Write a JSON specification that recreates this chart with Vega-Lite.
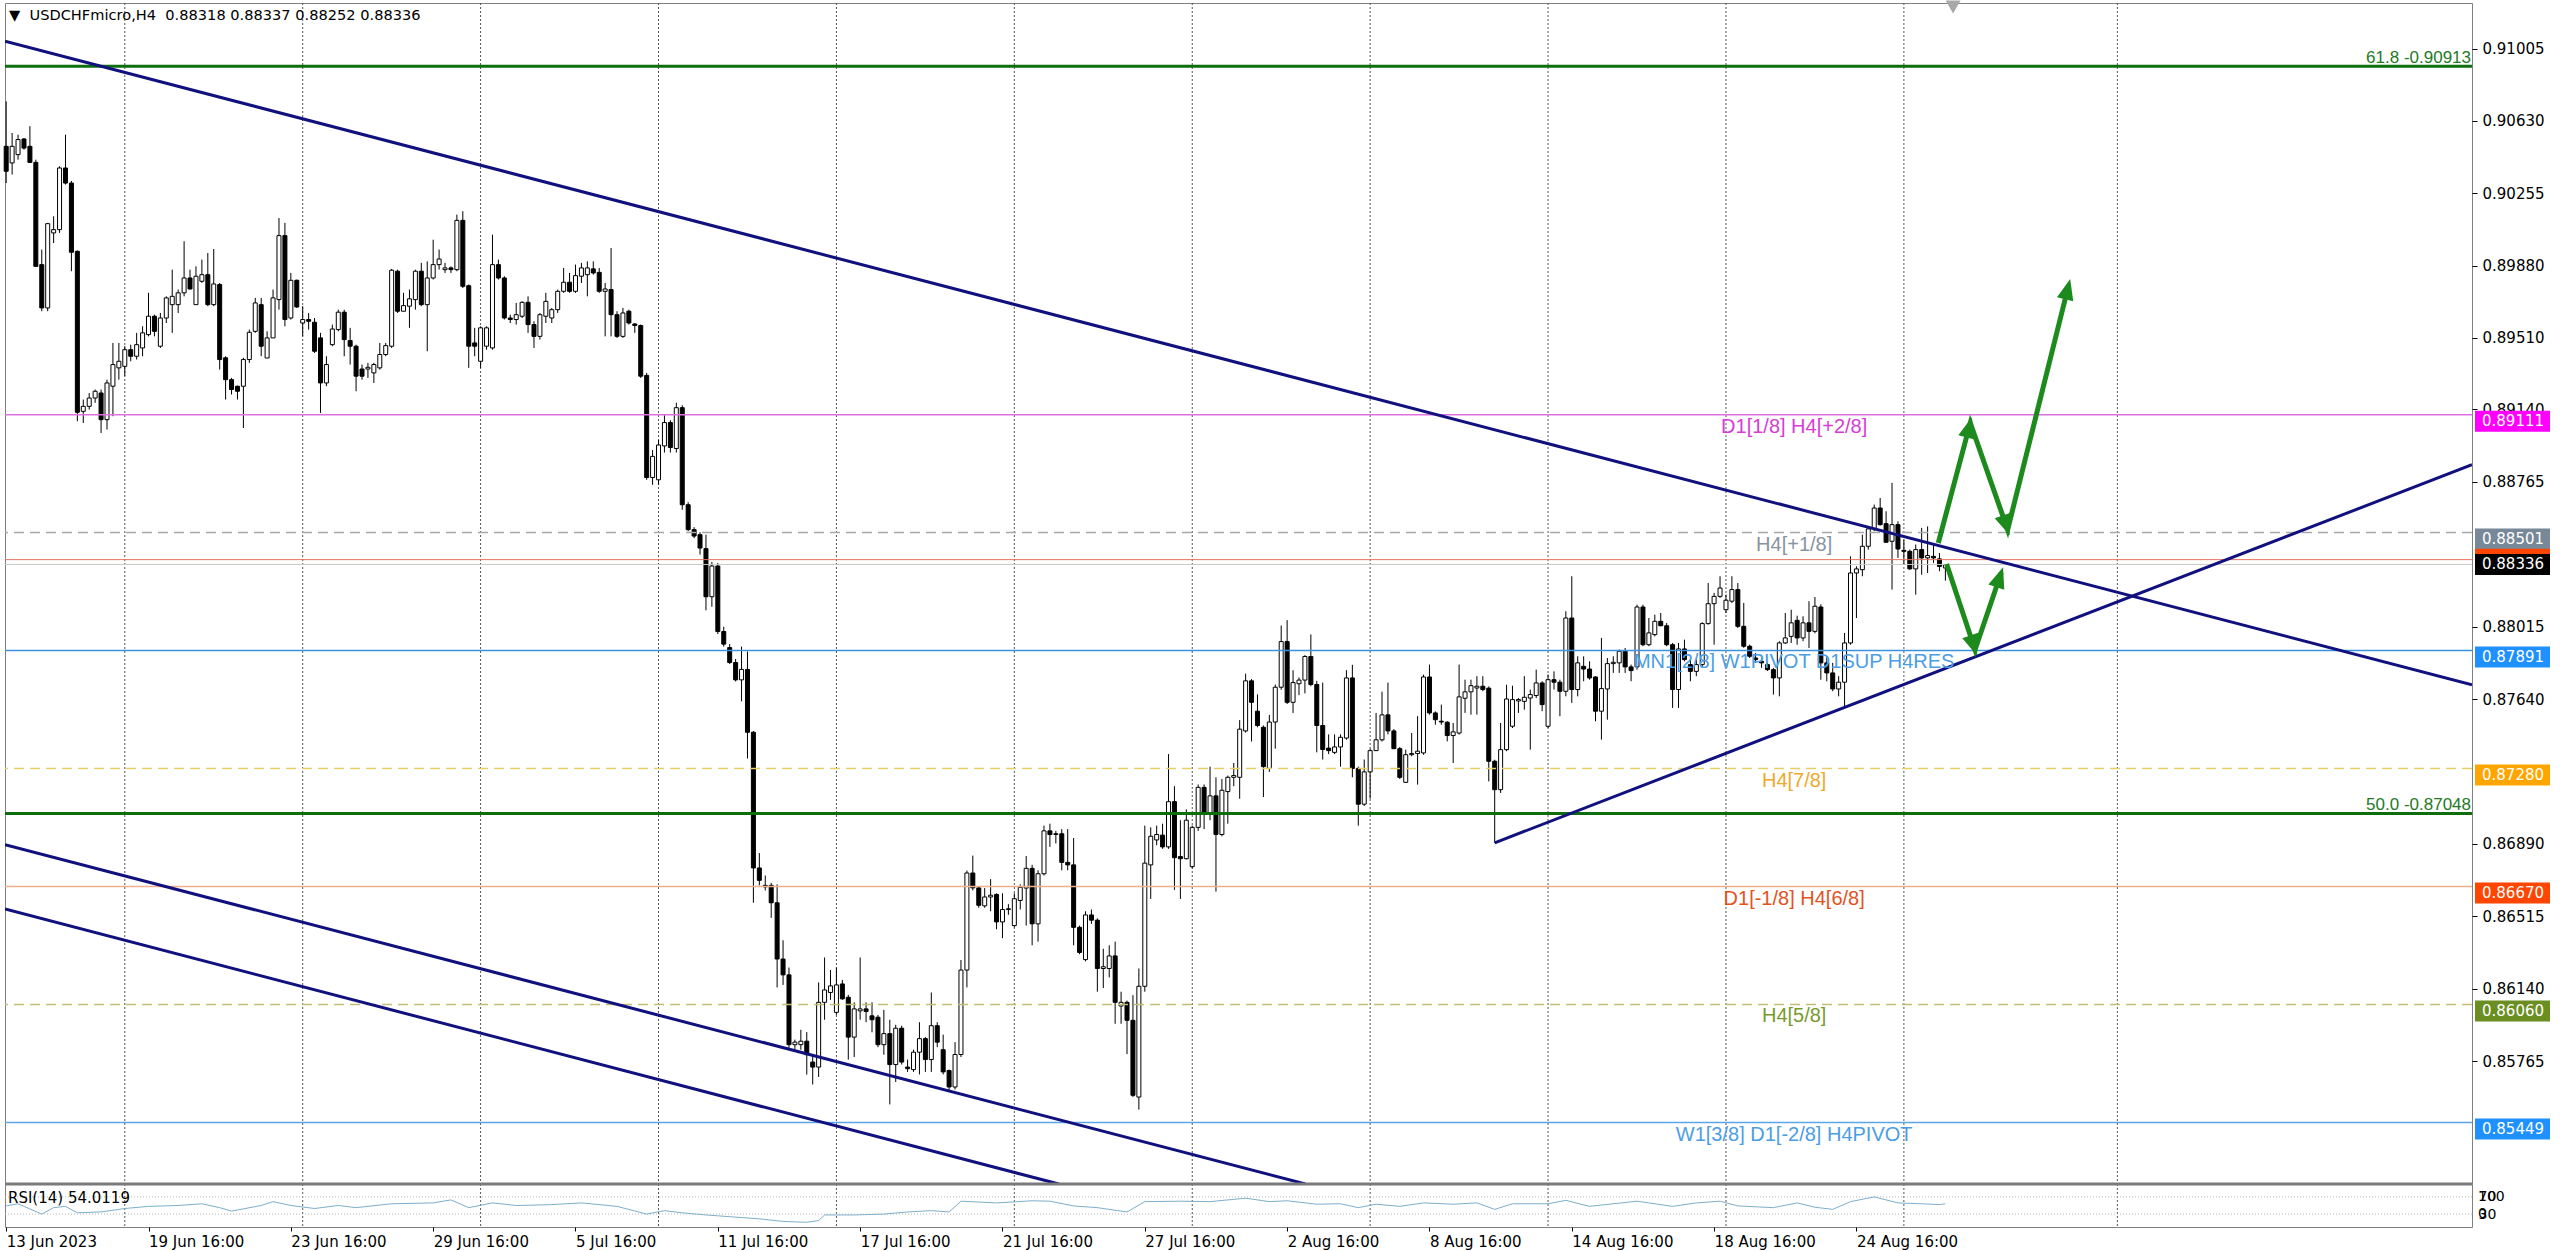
{
"$schema": "https://vega.github.io/schema/vega-lite/v6.json",
"padding": {"left": 3, "top": 0, "right": 0, "bottom": 0},
"autosize": {"type": "pad"},
"background": "#ffffff",
"bounds": "flush",
"spacing": 0,
"config": {"view": {"stroke": "#808080", "strokeWidth": 1}, "font": "DejaVu Sans"},
"datasets": {
"grid": [{"i":20},{"i":50},{"i":80},{"i":110},{"i":140},{"i":170},{"i":200},{"i":230},{"i":260},{"i":290},{"i":320},{"i":356}],
"levels": [
{"level":"61.8","price":0.90913,"kind":"fib","text":"61.8 -0.90913"},
{"level":"D1[1/8] H4[+2/8]","price":0.89111,"kind":"murrey"},
{"level":"H4[+1/8]","price":0.88501,"kind":"murrey"},
{"level":"Ask","price":0.88361,"kind":"ask"},
{"level":"Bid","price":0.88336,"kind":"bid"},
{"level":"MN1[2/8] W1PIVOT D1SUP H4RES","price":0.87891,"kind":"murrey"},
{"level":"H4[7/8]","price":0.8728,"kind":"murrey"},
{"level":"50.0","price":0.87048,"kind":"fib","text":"50.0 -0.87048"},
{"level":"D1[-1/8] H4[6/8]","price":0.8667,"kind":"murrey"},
{"level":"H4[5/8]","price":0.8606,"kind":"murrey"},
{"level":"W1[3/8] D1[-2/8] H4PIVOT","price":0.85449,"kind":"murrey"}
],
"trend": [
{"line":"A","i":-0.2,"price":0.91043},{"line":"A","i":415.8,"price":0.87714},
{"line":"B","i":251,"price":0.86896},{"line":"B","i":415.8,"price":0.88852},
{"line":"C1","i":-0.2,"price":0.86887},{"line":"C1","i":219.1,"price":0.85131},
{"line":"C2","i":-0.2,"price":0.86554},{"line":"C2","i":177.5,"price":0.85131}
],
"arrows": [
{"arrow":"up","seq":0,"i":325.8,"price":0.88447},{"arrow":"up","seq":1,"i":331.2,"price":0.89068},{"arrow":"up","seq":2,"i":337.5,"price":0.88516},{"arrow":"up","seq":3,"i":347.8,"price":0.89783},
{"arrow":"down","seq":0,"i":327.2,"price":0.88338},{"arrow":"down","seq":1,"i":332.0,"price":0.87895},{"arrow":"down","seq":2,"i":336.4,"price":0.88292}
],
"heads": [
{"i":331.2,"price":0.89068,"dir":14.8},{"i":337.5,"price":0.88516,"dir":160.5},{"i":347.8,"price":0.89783,"dir":14},
{"i":332.0,"price":0.87895,"dir":161.2},{"i":336.4,"price":0.88292,"dir":18.7}
],
"rsiLevels": [{"v":70},{"v":30}],
"rsi": [
{"i":0,"rsi":49},{"i":2,"rsi":54},{"i":6,"rsi":30},{"i":8,"rsi":45},{"i":10,"rsi":48},{"i":12,"rsi":33},{"i":16,"rsi":35},{"i":20,"rsi":43},{"i":24,"rsi":48},{"i":29,"rsi":50},{"i":33,"rsi":54},{"i":36,"rsi":45},{"i":38,"rsi":37},{"i":43,"rsi":50},{"i":45,"rsi":59},{"i":48,"rsi":50},{"i":52,"rsi":43},{"i":56,"rsi":50},{"i":59,"rsi":45},{"i":65,"rsi":54},{"i":72,"rsi":56},{"i":75,"rsi":63},{"i":78,"rsi":45},{"i":82,"rsi":56},{"i":86,"rsi":50},{"i":92,"rsi":52},{"i":97,"rsi":56},{"i":103,"rsi":48},{"i":108,"rsi":30},{"i":111,"rsi":38},{"i":114,"rsi":33},{"i":118,"rsi":28},{"i":122,"rsi":24},{"i":127,"rsi":19},{"i":131,"rsi":13},{"i":135,"rsi":11},{"i":137,"rsi":15},{"i":138,"rsi":28},{"i":143,"rsi":28},{"i":148,"rsi":30},{"i":152,"rsi":35},{"i":156,"rsi":38},{"i":159,"rsi":35},{"i":161,"rsi":60},{"i":167,"rsi":56},{"i":173,"rsi":61},{"i":176,"rsi":60},{"i":180,"rsi":49},{"i":184,"rsi":45},{"i":189,"rsi":35},{"i":192,"rsi":59},{"i":198,"rsi":60},{"i":203,"rsi":59},{"i":209,"rsi":67},{"i":213,"rsi":59},{"i":216,"rsi":61},{"i":221,"rsi":53},{"i":225,"rsi":54},{"i":228,"rsi":45},{"i":231,"rsi":53},{"i":235,"rsi":48},{"i":239,"rsi":56},{"i":244,"rsi":53},{"i":248,"rsi":56},{"i":251,"rsi":41},{"i":254,"rsi":54},{"i":260,"rsi":54},{"i":263,"rsi":62},{"i":267,"rsi":48},{"i":275,"rsi":60},{"i":281,"rsi":48},{"i":285,"rsi":56},{"i":289,"rsi":60},{"i":292,"rsi":49},{"i":298,"rsi":45},{"i":302,"rsi":56},{"i":305,"rsi":46},{"i":308,"rsi":41},{"i":311,"rsi":59},{"i":315,"rsi":70},{"i":319,"rsi":56},{"i":323,"rsi":54},{"i":326,"rsi":52},{"i":327,"rsi":54}
],
"candles": [
{"i":0,"open":0.90499,"high":0.90732,"low":0.90309,"close":0.90370},
{"i":1,"open":0.90413,"high":0.90568,"low":0.90353,"close":0.90499},
{"i":2,"open":0.90456,"high":0.90559,"low":0.90430,"close":0.90534},
{"i":3,"open":0.90537,"high":0.90542,"low":0.90482,"close":0.90490},
{"i":4,"open":0.90499,"high":0.90603,"low":0.90413,"close":0.90416},
{"i":5,"open":0.90416,"high":0.90430,"low":0.89878,"close":0.89878},
{"i":6,"open":0.89887,"high":0.89965,"low":0.89646,"close":0.89663},
{"i":7,"open":0.89663,"high":0.90103,"low":0.89646,"close":0.90099},
{"i":8,"open":0.90051,"high":0.90137,"low":0.89999,"close":0.90068},
{"i":9,"open":0.90068,"high":0.90396,"low":0.90051,"close":0.90387},
{"i":10,"open":0.90387,"high":0.90559,"low":0.90301,"close":0.90309},
{"i":11,"open":0.90309,"high":0.90320,"low":0.89853,"close":0.89951},
{"i":12,"open":0.89956,"high":0.89960,"low":0.89077,"close":0.89123},
{"i":13,"open":0.89128,"high":0.89189,"low":0.89068,"close":0.89154},
{"i":14,"open":0.89154,"high":0.89223,"low":0.89137,"close":0.89197},
{"i":15,"open":0.89197,"high":0.89241,"low":0.89172,"close":0.89232},
{"i":16,"open":0.89223,"high":0.89241,"low":0.89016,"close":0.89085},
{"i":17,"open":0.89085,"high":0.89292,"low":0.89034,"close":0.89275},
{"i":18,"open":0.89258,"high":0.89482,"low":0.89103,"close":0.89370},
{"i":19,"open":0.89353,"high":0.89482,"low":0.89292,"close":0.89387},
{"i":20,"open":0.89361,"high":0.89465,"low":0.89310,"close":0.89447},
{"i":21,"open":0.89447,"high":0.89473,"low":0.89387,"close":0.89413},
{"i":22,"open":0.89413,"high":0.89534,"low":0.89396,"close":0.89473},
{"i":23,"open":0.89456,"high":0.89568,"low":0.89413,"close":0.89534},
{"i":24,"open":0.89525,"high":0.89741,"low":0.89516,"close":0.89620},
{"i":25,"open":0.89620,"high":0.89628,"low":0.89516,"close":0.89542},
{"i":26,"open":0.89465,"high":0.89637,"low":0.89456,"close":0.89611},
{"i":27,"open":0.89611,"high":0.89723,"low":0.89585,"close":0.89715},
{"i":28,"open":0.89680,"high":0.89861,"low":0.89534,"close":0.89723},
{"i":29,"open":0.89680,"high":0.89758,"low":0.89637,"close":0.89741},
{"i":30,"open":0.89741,"high":0.90008,"low":0.89723,"close":0.89818},
{"i":31,"open":0.89818,"high":0.89861,"low":0.89758,"close":0.89761},
{"i":32,"open":0.89680,"high":0.89878,"low":0.89680,"close":0.89827},
{"i":33,"open":0.89801,"high":0.89913,"low":0.89792,"close":0.89835},
{"i":34,"open":0.89835,"high":0.89947,"low":0.89672,"close":0.89680},
{"i":35,"open":0.89680,"high":0.89968,"low":0.89672,"close":0.89787},
{"i":36,"open":0.89784,"high":0.89792,"low":0.89344,"close":0.89396},
{"i":37,"open":0.89405,"high":0.89413,"low":0.89189,"close":0.89292},
{"i":38,"open":0.89292,"high":0.89301,"low":0.89215,"close":0.89241},
{"i":39,"open":0.89258,"high":0.89261,"low":0.89189,"close":0.89232},
{"i":40,"open":0.89258,"high":0.89405,"low":0.89042,"close":0.89396},
{"i":41,"open":0.89396,"high":0.89551,"low":0.89379,"close":0.89537},
{"i":42,"open":0.89542,"high":0.89715,"low":0.89534,"close":0.89689},
{"i":43,"open":0.89680,"high":0.89715,"low":0.89413,"close":0.89465},
{"i":44,"open":0.89404,"high":0.89542,"low":0.89404,"close":0.89508},
{"i":45,"open":0.89508,"high":0.89758,"low":0.89508,"close":0.89715},
{"i":46,"open":0.89706,"high":0.90128,"low":0.89654,"close":0.90037},
{"i":47,"open":0.90037,"high":0.90103,"low":0.89568,"close":0.89603},
{"i":48,"open":0.89611,"high":0.89844,"low":0.89603,"close":0.89806},
{"i":49,"open":0.89806,"high":0.89810,"low":0.89663,"close":0.89668},
{"i":50,"open":0.89585,"high":0.89672,"low":0.89516,"close":0.89603},
{"i":51,"open":0.89603,"high":0.89637,"low":0.89551,"close":0.89594},
{"i":52,"open":0.89589,"high":0.89611,"low":0.89430,"close":0.89439},
{"i":53,"open":0.89508,"high":0.89534,"low":0.89120,"close":0.89275},
{"i":54,"open":0.89275,"high":0.89413,"low":0.89258,"close":0.89370},
{"i":55,"open":0.89473,"high":0.89577,"low":0.89465,"close":0.89554},
{"i":56,"open":0.89551,"high":0.89654,"low":0.89542,"close":0.89641},
{"i":57,"open":0.89641,"high":0.89654,"low":0.89413,"close":0.89499},
{"i":58,"open":0.89494,"high":0.89560,"low":0.89370,"close":0.89465},
{"i":59,"open":0.89465,"high":0.89473,"low":0.89232,"close":0.89310},
{"i":60,"open":0.89347,"high":0.89370,"low":0.89292,"close":0.89310},
{"i":61,"open":0.89347,"high":0.89379,"low":0.89301,"close":0.89356},
{"i":62,"open":0.89327,"high":0.89379,"low":0.89275,"close":0.89370},
{"i":63,"open":0.89353,"high":0.89482,"low":0.89344,"close":0.89422},
{"i":64,"open":0.89422,"high":0.89482,"low":0.89413,"close":0.89468},
{"i":65,"open":0.89465,"high":0.89865,"low":0.89456,"close":0.89858},
{"i":66,"open":0.89853,"high":0.89861,"low":0.89637,"close":0.89646},
{"i":67,"open":0.89646,"high":0.89741,"low":0.89646,"close":0.89675},
{"i":68,"open":0.89672,"high":0.89758,"low":0.89560,"close":0.89710},
{"i":69,"open":0.89706,"high":0.89861,"low":0.89654,"close":0.89853},
{"i":70,"open":0.89853,"high":0.89896,"low":0.89672,"close":0.89680},
{"i":71,"open":0.89680,"high":0.89904,"low":0.89439,"close":0.89818},
{"i":72,"open":0.89818,"high":0.90016,"low":0.89810,"close":0.89887},
{"i":73,"open":0.89887,"high":0.89965,"low":0.89861,"close":0.89916},
{"i":74,"open":0.89861,"high":0.89896,"low":0.89844,"close":0.89870},
{"i":75,"open":0.89870,"high":0.89878,"low":0.89844,"close":0.89861},
{"i":76,"open":0.89861,"high":0.90146,"low":0.89853,"close":0.90116},
{"i":77,"open":0.90116,"high":0.90163,"low":0.89766,"close":0.89775},
{"i":78,"open":0.89778,"high":0.89784,"low":0.89353,"close":0.89465},
{"i":79,"open":0.89482,"high":0.89560,"low":0.89413,"close":0.89465},
{"i":80,"open":0.89387,"high":0.89568,"low":0.89353,"close":0.89560},
{"i":81,"open":0.89465,"high":0.89568,"low":0.89447,"close":0.89560},
{"i":82,"open":0.89456,"high":0.90042,"low":0.89447,"close":0.89887},
{"i":83,"open":0.89887,"high":0.89913,"low":0.89810,"close":0.89818},
{"i":84,"open":0.89818,"high":0.89827,"low":0.89603,"close":0.89611},
{"i":85,"open":0.89611,"high":0.89628,"low":0.89585,"close":0.89603},
{"i":86,"open":0.89603,"high":0.89689,"low":0.89577,"close":0.89628},
{"i":87,"open":0.89620,"high":0.89697,"low":0.89611,"close":0.89692},
{"i":88,"open":0.89692,"high":0.89723,"low":0.89534,"close":0.89577},
{"i":89,"open":0.89577,"high":0.89594,"low":0.89456,"close":0.89516},
{"i":90,"open":0.89516,"high":0.89637,"low":0.89499,"close":0.89628},
{"i":91,"open":0.89620,"high":0.89741,"low":0.89585,"close":0.89697},
{"i":92,"open":0.89611,"high":0.89663,"low":0.89585,"close":0.89654},
{"i":93,"open":0.89654,"high":0.89758,"low":0.89637,"close":0.89749},
{"i":94,"open":0.89749,"high":0.89870,"low":0.89741,"close":0.89796},
{"i":95,"open":0.89796,"high":0.89844,"low":0.89741,"close":0.89749},
{"i":96,"open":0.89749,"high":0.89887,"low":0.89741,"close":0.89830},
{"i":97,"open":0.89827,"high":0.89896,"low":0.89792,"close":0.89870},
{"i":98,"open":0.89835,"high":0.89904,"low":0.89723,"close":0.89870},
{"i":99,"open":0.89865,"high":0.89904,"low":0.89835,"close":0.89844},
{"i":100,"open":0.89847,"high":0.89870,"low":0.89741,"close":0.89749},
{"i":101,"open":0.89749,"high":0.89792,"low":0.89516,"close":0.89761},
{"i":102,"open":0.89758,"high":0.89973,"low":0.89516,"close":0.89628},
{"i":103,"open":0.89628,"high":0.89646,"low":0.89508,"close":0.89516},
{"i":104,"open":0.89516,"high":0.89663,"low":0.89508,"close":0.89637},
{"i":105,"open":0.89646,"high":0.89654,"low":0.89577,"close":0.89585},
{"i":106,"open":0.89580,"high":0.89585,"low":0.89534,"close":0.89572},
{"i":107,"open":0.89572,"high":0.89577,"low":0.89301,"close":0.89310},
{"i":108,"open":0.89314,"high":0.89327,"low":0.88774,"close":0.88786},
{"i":109,"open":0.88786,"high":0.88928,"low":0.88748,"close":0.88895},
{"i":110,"open":0.88774,"high":0.88980,"low":0.88748,"close":0.88954},
{"i":111,"open":0.88949,"high":0.89108,"low":0.88915,"close":0.89070},
{"i":112,"open":0.89070,"high":0.89082,"low":0.88915,"close":0.88941},
{"i":113,"open":0.88936,"high":0.89173,"low":0.88915,"close":0.89147},
{"i":114,"open":0.89147,"high":0.89160,"low":0.88619,"close":0.88645},
{"i":115,"open":0.88645,"high":0.88658,"low":0.88508,"close":0.88516},
{"i":116,"open":0.88516,"high":0.88529,"low":0.88472,"close":0.88483},
{"i":117,"open":0.88490,"high":0.88503,"low":0.88387,"close":0.88421},
{"i":118,"open":0.88418,"high":0.88490,"low":0.88099,"close":0.88169},
{"i":119,"open":0.88169,"high":0.88349,"low":0.88117,"close":0.88328},
{"i":120,"open":0.88328,"high":0.88344,"low":0.87976,"close":0.87989},
{"i":121,"open":0.87989,"high":0.88014,"low":0.87911,"close":0.87924},
{"i":122,"open":0.87906,"high":0.87924,"low":0.87821,"close":0.87829},
{"i":123,"open":0.87829,"high":0.87847,"low":0.87731,"close":0.87739},
{"i":124,"open":0.87739,"high":0.87911,"low":0.87628,"close":0.87793},
{"i":125,"open":0.87793,"high":0.87886,"low":0.87332,"close":0.87468},
{"i":126,"open":0.87468,"high":0.87474,"low":0.86586,"close":0.86766},
{"i":127,"open":0.86766,"high":0.86843,"low":0.86676,"close":0.86702},
{"i":128,"open":0.86676,"high":0.86727,"low":0.86650,"close":0.86668},
{"i":129,"open":0.86676,"high":0.86689,"low":0.86508,"close":0.86586},
{"i":130,"open":0.86586,"high":0.86681,"low":0.86148,"close":0.86295},
{"i":131,"open":0.86295,"high":0.86392,"low":0.86161,"close":0.86213},
{"i":132,"open":0.86213,"high":0.86251,"low":0.85826,"close":0.85852},
{"i":133,"open":0.85852,"high":0.85878,"low":0.85826,"close":0.85865},
{"i":134,"open":0.85852,"high":0.85929,"low":0.85826,"close":0.85870},
{"i":135,"open":0.85870,"high":0.85917,"low":0.85697,"close":0.85800},
{"i":136,"open":0.85762,"high":0.85800,"low":0.85646,"close":0.85736},
{"i":137,"open":0.85736,"high":0.86174,"low":0.85685,"close":0.86071},
{"i":138,"open":0.86071,"high":0.86303,"low":0.85981,"close":0.86135},
{"i":139,"open":0.86122,"high":0.86238,"low":0.86084,"close":0.86156},
{"i":140,"open":0.86019,"high":0.86251,"low":0.86006,"close":0.86161},
{"i":141,"open":0.86166,"high":0.86187,"low":0.86084,"close":0.86089},
{"i":142,"open":0.86097,"high":0.86110,"low":0.85775,"close":0.85891},
{"i":143,"open":0.85891,"high":0.86071,"low":0.85788,"close":0.86037},
{"i":144,"open":0.86027,"high":0.86303,"low":0.85981,"close":0.86037},
{"i":145,"open":0.86037,"high":0.86071,"low":0.85968,"close":0.86024},
{"i":146,"open":0.86001,"high":0.86071,"low":0.85916,"close":0.85981},
{"i":147,"open":0.85994,"high":0.86006,"low":0.85839,"close":0.85852},
{"i":148,"open":0.85852,"high":0.86032,"low":0.85800,"close":0.85909},
{"i":149,"open":0.85909,"high":0.85981,"low":0.85543,"close":0.85749},
{"i":150,"open":0.85749,"high":0.85955,"low":0.85659,"close":0.85937},
{"i":151,"open":0.85937,"high":0.85950,"low":0.85749,"close":0.85762},
{"i":152,"open":0.85736,"high":0.85775,"low":0.85711,"close":0.85728},
{"i":153,"open":0.85723,"high":0.85826,"low":0.85711,"close":0.85813},
{"i":154,"open":0.85813,"high":0.85968,"low":0.85698,"close":0.85883},
{"i":155,"open":0.85883,"high":0.85891,"low":0.85711,"close":0.85775},
{"i":156,"open":0.85775,"high":0.86122,"low":0.85711,"close":0.85950},
{"i":157,"open":0.85950,"high":0.85968,"low":0.85839,"close":0.85865},
{"i":158,"open":0.85826,"high":0.85904,"low":0.85698,"close":0.85711},
{"i":159,"open":0.85718,"high":0.85723,"low":0.85607,"close":0.85633},
{"i":160,"open":0.85633,"high":0.85865,"low":0.85620,"close":0.85801},
{"i":161,"open":0.85801,"high":0.86290,"low":0.85788,"close":0.86238},
{"i":162,"open":0.86238,"high":0.86753,"low":0.86148,"close":0.86740},
{"i":163,"open":0.86740,"high":0.86830,"low":0.86650,"close":0.86663},
{"i":164,"open":0.86663,"high":0.86670,"low":0.86560,"close":0.86573},
{"i":165,"open":0.86570,"high":0.86662,"low":0.86560,"close":0.86616},
{"i":166,"open":0.86616,"high":0.86708,"low":0.86542,"close":0.86625},
{"i":167,"open":0.86629,"high":0.86635,"low":0.86449,"close":0.86487},
{"i":168,"open":0.86487,"high":0.86635,"low":0.86403,"close":0.86551},
{"i":169,"open":0.86551,"high":0.86579,"low":0.86524,"close":0.86555},
{"i":170,"open":0.86468,"high":0.86635,"low":0.86459,"close":0.86607},
{"i":171,"open":0.86598,"high":0.86681,"low":0.86551,"close":0.86666},
{"i":172,"open":0.86662,"high":0.86828,"low":0.86468,"close":0.86764},
{"i":173,"open":0.86764,"high":0.86782,"low":0.86366,"close":0.86477},
{"i":174,"open":0.86477,"high":0.86754,"low":0.86385,"close":0.86736},
{"i":175,"open":0.86736,"high":0.86985,"low":0.86727,"close":0.86958},
{"i":176,"open":0.86958,"high":0.86995,"low":0.86875,"close":0.86939},
{"i":177,"open":0.86943,"high":0.86958,"low":0.86893,"close":0.86939},
{"i":178,"open":0.86943,"high":0.86967,"low":0.86754,"close":0.86795},
{"i":179,"open":0.86795,"high":0.86967,"low":0.86754,"close":0.86782},
{"i":180,"open":0.86782,"high":0.86921,"low":0.86366,"close":0.86459},
{"i":181,"open":0.86459,"high":0.86468,"low":0.86320,"close":0.86329},
{"i":182,"open":0.86292,"high":0.86542,"low":0.86283,"close":0.86523},
{"i":183,"open":0.86523,"high":0.86551,"low":0.86477,"close":0.86496},
{"i":184,"open":0.86496,"high":0.86505,"low":0.86126,"close":0.86246},
{"i":185,"open":0.86246,"high":0.86348,"low":0.86145,"close":0.86255},
{"i":186,"open":0.86246,"high":0.86366,"low":0.86200,"close":0.86311},
{"i":187,"open":0.86311,"high":0.86385,"low":0.85960,"close":0.86071},
{"i":188,"open":0.86052,"high":0.86126,"low":0.85960,"close":0.86071},
{"i":189,"open":0.86071,"high":0.86080,"low":0.85803,"close":0.85978},
{"i":190,"open":0.85978,"high":0.86108,"low":0.85581,"close":0.85590},
{"i":191,"open":0.85581,"high":0.86246,"low":0.85516,"close":0.86154},
{"i":192,"open":0.86154,"high":0.86985,"low":0.86126,"close":0.86791},
{"i":193,"open":0.86782,"high":0.86976,"low":0.86606,"close":0.86930},
{"i":194,"open":0.86911,"high":0.86985,"low":0.86884,"close":0.86939},
{"i":195,"open":0.86936,"high":0.86995,"low":0.86865,"close":0.86875},
{"i":196,"open":0.86875,"high":0.87355,"low":0.86865,"close":0.87109},
{"i":197,"open":0.87109,"high":0.87189,"low":0.86653,"close":0.86819},
{"i":198,"open":0.86825,"high":0.87013,"low":0.86606,"close":0.86814},
{"i":199,"open":0.86814,"high":0.87069,"low":0.86810,"close":0.87013},
{"i":200,"open":0.86773,"high":0.86985,"low":0.86764,"close":0.86976},
{"i":201,"open":0.86976,"high":0.87198,"low":0.86958,"close":0.87183},
{"i":202,"open":0.87183,"high":0.87198,"low":0.86967,"close":0.87050},
{"i":203,"open":0.87050,"high":0.87290,"low":0.87013,"close":0.87139},
{"i":204,"open":0.87139,"high":0.87235,"low":0.86644,"close":0.86939},
{"i":205,"open":0.86939,"high":0.87226,"low":0.86930,"close":0.87168},
{"i":206,"open":0.87161,"high":0.87244,"low":0.86995,"close":0.87235},
{"i":207,"open":0.87235,"high":0.87309,"low":0.87189,"close":0.87244},
{"i":208,"open":0.87235,"high":0.87531,"low":0.87124,"close":0.87484},
{"i":209,"open":0.87475,"high":0.87771,"low":0.87466,"close":0.87734},
{"i":210,"open":0.87734,"high":0.87743,"low":0.87420,"close":0.87623},
{"i":211,"open":0.87577,"high":0.87664,"low":0.87494,"close":0.87503},
{"i":212,"open":0.87494,"high":0.87503,"low":0.87133,"close":0.87290},
{"i":213,"open":0.87281,"high":0.87558,"low":0.87263,"close":0.87521},
{"i":214,"open":0.87521,"high":0.87715,"low":0.87383,"close":0.87701},
{"i":215,"open":0.87701,"high":0.88020,"low":0.87688,"close":0.87937},
{"i":216,"open":0.87937,"high":0.88048,"low":0.87614,"close":0.87623},
{"i":217,"open":0.87623,"high":0.87789,"low":0.87568,"close":0.87725},
{"i":218,"open":0.87719,"high":0.87752,"low":0.87660,"close":0.87738},
{"i":219,"open":0.87738,"high":0.87867,"low":0.87669,"close":0.87860},
{"i":220,"open":0.87860,"high":0.87974,"low":0.87706,"close":0.87715},
{"i":221,"open":0.87715,"high":0.87734,"low":0.87364,"close":0.87503},
{"i":222,"open":0.87503,"high":0.87725,"low":0.87327,"close":0.87379},
{"i":223,"open":0.87386,"high":0.87457,"low":0.87355,"close":0.87373},
{"i":224,"open":0.87364,"high":0.87457,"low":0.87355,"close":0.87392},
{"i":225,"open":0.87392,"high":0.87457,"low":0.87290,"close":0.87442},
{"i":226,"open":0.87438,"high":0.87789,"low":0.87429,"close":0.87749},
{"i":227,"open":0.87749,"high":0.87817,"low":0.87235,"close":0.87281},
{"i":228,"open":0.87281,"high":0.87290,"low":0.86985,"close":0.87096},
{"i":229,"open":0.87096,"high":0.87327,"low":0.87087,"close":0.87263},
{"i":230,"open":0.87263,"high":0.87383,"low":0.87124,"close":0.87373},
{"i":231,"open":0.87373,"high":0.87568,"low":0.87373,"close":0.87429},
{"i":232,"open":0.87429,"high":0.87678,"low":0.87420,"close":0.87558},
{"i":233,"open":0.87558,"high":0.87725,"low":0.87457,"close":0.87475},
{"i":234,"open":0.87475,"high":0.87484,"low":0.87383,"close":0.87383},
{"i":235,"open":0.87383,"high":0.87392,"low":0.87226,"close":0.87235},
{"i":236,"open":0.87209,"high":0.87378,"low":0.87206,"close":0.87352},
{"i":237,"open":0.87352,"high":0.87464,"low":0.87344,"close":0.87358},
{"i":238,"open":0.87358,"high":0.87551,"low":0.87197,"close":0.87370},
{"i":239,"open":0.87361,"high":0.87766,"low":0.87352,"close":0.87754},
{"i":240,"open":0.87754,"high":0.87818,"low":0.87559,"close":0.87568},
{"i":241,"open":0.87568,"high":0.87576,"low":0.87507,"close":0.87533},
{"i":242,"open":0.87525,"high":0.87611,"low":0.87507,"close":0.87521},
{"i":243,"open":0.87520,"high":0.87525,"low":0.87421,"close":0.87451},
{"i":244,"open":0.87451,"high":0.87516,"low":0.87309,"close":0.87470},
{"i":245,"open":0.87464,"high":0.87818,"low":0.87456,"close":0.87651},
{"i":246,"open":0.87644,"high":0.87740,"low":0.87568,"close":0.87677},
{"i":247,"open":0.87677,"high":0.87740,"low":0.87559,"close":0.87709},
{"i":248,"open":0.87697,"high":0.87758,"low":0.87559,"close":0.87706},
{"i":249,"open":0.87706,"high":0.87758,"low":0.87680,"close":0.87689},
{"i":250,"open":0.87696,"high":0.87705,"low":0.87214,"close":0.87318},
{"i":251,"open":0.87318,"high":0.87326,"low":0.86896,"close":0.87171},
{"i":252,"open":0.87171,"high":0.87516,"low":0.87154,"close":0.87378},
{"i":253,"open":0.87378,"high":0.87714,"low":0.87370,"close":0.87640},
{"i":254,"open":0.87499,"high":0.87709,"low":0.87490,"close":0.87637},
{"i":255,"open":0.87630,"high":0.87645,"low":0.87568,"close":0.87637},
{"i":256,"open":0.87628,"high":0.87758,"low":0.87585,"close":0.87649},
{"i":257,"open":0.87645,"high":0.87689,"low":0.87378,"close":0.87663},
{"i":258,"open":0.87658,"high":0.87792,"low":0.87645,"close":0.87723},
{"i":259,"open":0.87723,"high":0.87732,"low":0.87577,"close":0.87611},
{"i":260,"open":0.87499,"high":0.87766,"low":0.87490,"close":0.87740},
{"i":261,"open":0.87740,"high":0.87783,"low":0.87689,"close":0.87727},
{"i":262,"open":0.87727,"high":0.87740,"low":0.87551,"close":0.87680},
{"i":263,"open":0.87680,"high":0.88094,"low":0.87654,"close":0.88059},
{"i":264,"open":0.88059,"high":0.88275,"low":0.87620,"close":0.87689},
{"i":265,"open":0.87689,"high":0.87861,"low":0.87654,"close":0.87827},
{"i":266,"open":0.87809,"high":0.87861,"low":0.87732,"close":0.87795},
{"i":267,"open":0.87795,"high":0.87835,"low":0.87740,"close":0.87749},
{"i":268,"open":0.87754,"high":0.87758,"low":0.87525,"close":0.87577},
{"i":269,"open":0.87577,"high":0.87956,"low":0.87430,"close":0.87694},
{"i":270,"open":0.87692,"high":0.87852,"low":0.87533,"close":0.87823},
{"i":271,"open":0.87823,"high":0.87861,"low":0.87775,"close":0.87830},
{"i":272,"open":0.87827,"high":0.87896,"low":0.87775,"close":0.87887},
{"i":273,"open":0.87887,"high":0.87904,"low":0.87775,"close":0.87806},
{"i":274,"open":0.87806,"high":0.87818,"low":0.87732,"close":0.87787},
{"i":275,"open":0.87806,"high":0.88128,"low":0.87792,"close":0.88116},
{"i":276,"open":0.88116,"high":0.88128,"low":0.87913,"close":0.87921},
{"i":277,"open":0.87921,"high":0.88059,"low":0.87913,"close":0.87982},
{"i":278,"open":0.87973,"high":0.88076,"low":0.87964,"close":0.88042},
{"i":279,"open":0.88042,"high":0.88085,"low":0.88016,"close":0.88019},
{"i":280,"open":0.88019,"high":0.88033,"low":0.87913,"close":0.87921},
{"i":281,"open":0.87921,"high":0.87930,"low":0.87594,"close":0.87689},
{"i":282,"open":0.87689,"high":0.87930,"low":0.87594,"close":0.87899},
{"i":283,"open":0.87899,"high":0.87947,"low":0.87835,"close":0.87844},
{"i":284,"open":0.87818,"high":0.87844,"low":0.87732,"close":0.87783},
{"i":285,"open":0.87783,"high":0.87844,"low":0.87758,"close":0.87818},
{"i":286,"open":0.87818,"high":0.88037,"low":0.87801,"close":0.88030},
{"i":287,"open":0.88030,"high":0.88240,"low":0.88025,"close":0.88133},
{"i":288,"open":0.88133,"high":0.88189,"low":0.87921,"close":0.88171},
{"i":289,"open":0.88171,"high":0.88275,"low":0.88163,"close":0.88214},
{"i":290,"open":0.88102,"high":0.88180,"low":0.88085,"close":0.88151},
{"i":291,"open":0.88146,"high":0.88275,"low":0.88137,"close":0.88206},
{"i":292,"open":0.88206,"high":0.88240,"low":0.88007,"close":0.88016},
{"i":293,"open":0.88016,"high":0.88137,"low":0.87905,"close":0.87913},
{"i":294,"open":0.87913,"high":0.87921,"low":0.87852,"close":0.87861},
{"i":295,"open":0.87852,"high":0.87878,"low":0.87827,"close":0.87844},
{"i":296,"open":0.87835,"high":0.87852,"low":0.87801,"close":0.87827},
{"i":297,"open":0.87818,"high":0.87827,"low":0.87785,"close":0.87792},
{"i":298,"open":0.87792,"high":0.87801,"low":0.87663,"close":0.87749},
{"i":299,"open":0.87749,"high":0.87939,"low":0.87654,"close":0.87930},
{"i":300,"open":0.87930,"high":0.88085,"low":0.87925,"close":0.87956},
{"i":301,"open":0.87964,"high":0.88102,"low":0.87930,"close":0.88034},
{"i":302,"open":0.88047,"high":0.88071,"low":0.87921,"close":0.87956},
{"i":303,"open":0.87956,"high":0.88068,"low":0.87939,"close":0.88034},
{"i":304,"open":0.88034,"high":0.88146,"low":0.87904,"close":0.87990},
{"i":305,"open":0.87990,"high":0.88168,"low":0.87980,"close":0.88120},
{"i":306,"open":0.88116,"high":0.88130,"low":0.87740,"close":0.87827},
{"i":307,"open":0.87827,"high":0.87861,"low":0.87732,"close":0.87775},
{"i":308,"open":0.87775,"high":0.87827,"low":0.87680,"close":0.87692},
{"i":309,"open":0.87692,"high":0.87758,"low":0.87654,"close":0.87727},
{"i":310,"open":0.87727,"high":0.87982,"low":0.87602,"close":0.87930},
{"i":311,"open":0.87930,"high":0.88378,"low":0.87921,"close":0.88292},
{"i":312,"open":0.88292,"high":0.88327,"low":0.88059,"close":0.88313},
{"i":313,"open":0.88309,"high":0.88490,"low":0.88275,"close":0.88430},
{"i":314,"open":0.88430,"high":0.88525,"low":0.88413,"close":0.88520},
{"i":315,"open":0.88520,"high":0.88646,"low":0.88508,"close":0.88628},
{"i":316,"open":0.88628,"high":0.88680,"low":0.88537,"close":0.88542},
{"i":317,"open":0.88547,"high":0.88611,"low":0.88447,"close":0.88451},
{"i":318,"open":0.88456,"high":0.88758,"low":0.88206,"close":0.88542},
{"i":319,"open":0.88542,"high":0.88559,"low":0.88370,"close":0.88416},
{"i":320,"open":0.88409,"high":0.88464,"low":0.88335,"close":0.88404},
{"i":321,"open":0.88404,"high":0.88413,"low":0.88309,"close":0.88313},
{"i":322,"open":0.88313,"high":0.88439,"low":0.88180,"close":0.88413},
{"i":323,"open":0.88413,"high":0.88525,"low":0.88283,"close":0.88370},
{"i":324,"open":0.88370,"high":0.88533,"low":0.88292,"close":0.88382},
{"i":325,"open":0.88378,"high":0.88439,"low":0.88344,"close":0.88370},
{"i":326,"open":0.88365,"high":0.88395,"low":0.88301,"close":0.88326},
{"i":327,"open":0.88318,"high":0.88337,"low":0.88252,"close":0.88336}
]
},
"vconcat": [
{
"width": 2467,
"height": 1181,
"resolve": {"scale": {"color": "independent", "stroke": "independent", "strokeDash": "independent"}},
"layer": [
{"data": {"name": "grid"}, "mark": {"type": "rule", "stroke": "#555555", "strokeWidth": 1, "strokeDash": [2, 2]},
 "encoding": {"x": {"field": "i", "type": "quantitative", "title": null, "scale": {"domain": [-0.2, 415.8], "nice": false, "zero": false, "padding": 0}, "axis": null}}},
{"data": {"name": "candles"}, "mark": {"type": "rule", "stroke": "#000000", "strokeWidth": 1},
 "encoding": {
  "x": {"field": "i", "type": "quantitative", "title": null, "scale": {"domain": [-0.2, 415.8], "nice": false, "zero": false, "padding": 0}, "axis": null},
  "y": {"field": "low", "type": "quantitative", "title": null, "scale": {"domain": [0.851312, 0.912404], "nice": false, "zero": false, "padding": 0},
   "axis": {"orient": "right", "title": null, "values": [0.91005, 0.9063, 0.90255, 0.8988, 0.8951, 0.8914, 0.88765, 0.88015, 0.8764, 0.8689, 0.86515, 0.8614, 0.85765], "format": ".5f", "grid": false, "domain": false, "ticks": true, "tickSize": 5, "tickColor": "#000000", "labelPadding": 5, "labelFont": "DejaVu Sans", "labelFontSize": 15, "labelColor": "#000000", "labelBaseline": "middle", "labelOverlap": false, "labelFlush": false, "labelBound": false, "zindex": 0}},
  "y2": {"field": "high"}}},
{"data": {"name": "candles"}, "mark": {"type": "bar", "width": 4, "stroke": "#000000", "strokeWidth": 1, "cornerRadius": 0},
 "encoding": {
  "x": {"field": "i", "type": "quantitative", "title": null, "scale": {"domain": [-0.2, 415.8], "nice": false, "zero": false, "padding": 0}, "axis": null},
  "y": {"field": "open", "type": "quantitative", "title": null},
  "y2": {"field": "close"},
  "fill": {"condition": {"test": "datum.close >= datum.open", "value": "#ffffff"}, "value": "#000000"}}},
{"data": {"name": "levels"}, "transform": [{"filter": "datum.kind == 'fib'"}], "mark": {"type": "rule", "stroke": "#0e6e0e", "strokeWidth": 3},
 "encoding": {"y": {"field": "price", "type": "quantitative", "title": null}}},
{"data": {"name": "levels"}, "transform": [{"filter": "datum.kind == 'murrey'"}], "mark": {"type": "rule", "strokeWidth": 1.5},
 "encoding": {"y": {"field": "price", "type": "quantitative", "title": null},
  "stroke": {"field": "level", "type": "nominal", "legend": null, "scale": {"domain": ["D1[1/8] H4[+2/8]", "H4[+1/8]", "MN1[2/8] W1PIVOT D1SUP H4RES", "H4[7/8]", "D1[-1/8] H4[6/8]", "H4[5/8]", "W1[3/8] D1[-2/8] H4PIVOT"], "range": ["#e070e0", "#a8a8a8", "#3c92e0", "#e6cf6a", "#eeb08c", "#c4bc74", "#5aa6e6"]}},
  "strokeDash": {"field": "level", "type": "nominal", "legend": null, "scale": {"domain": ["D1[1/8] H4[+2/8]", "H4[+1/8]", "MN1[2/8] W1PIVOT D1SUP H4RES", "H4[7/8]", "D1[-1/8] H4[6/8]", "H4[5/8]", "W1[3/8] D1[-2/8] H4PIVOT"], "range": [[1, 0], [10, 6], [1, 0], [10, 6], [1, 0], [10, 6], [1, 0]]}}}},
{"data": {"name": "levels"}, "transform": [{"filter": "datum.kind == 'ask' || datum.kind == 'bid'"}], "mark": {"type": "rule", "strokeWidth": 1},
 "encoding": {"y": {"field": "price", "type": "quantitative", "title": null},
  "stroke": {"field": "level", "type": "nominal", "legend": null, "scale": {"domain": ["Ask", "Bid"], "range": ["#e87060", "#c8c8c8"]}}}},
{"data": {"name": "trend"}, "mark": {"type": "line", "stroke": "#10107e", "strokeWidth": 3, "clip": true},
 "encoding": {
  "x": {"field": "i", "type": "quantitative", "title": null, "axis": null},
  "y": {"field": "price", "type": "quantitative", "title": null},
  "detail": {"field": "line", "type": "nominal"},
  "order": {"field": "i", "type": "quantitative"}}},
{"data": {"name": "arrows"}, "mark": {"type": "line", "stroke": "#1d8a1d", "strokeWidth": 5, "strokeJoin": "miter"},
 "encoding": {
  "x": {"field": "i", "type": "quantitative", "title": null, "axis": null},
  "y": {"field": "price", "type": "quantitative", "title": null},
  "detail": {"field": "arrow", "type": "nominal"},
  "order": {"field": "seq", "type": "quantitative"}}},
{"data": {"name": "heads"}, "mark": {"type": "point", "shape": "M0,-0.3L0.42,0.75L-0.42,0.75Z", "size": 1600, "filled": true, "fill": "#1d8a1d", "strokeWidth": 0, "opacity": 1},
 "encoding": {
  "x": {"field": "i", "type": "quantitative", "title": null, "axis": null},
  "y": {"field": "price", "type": "quantitative", "title": null},
  "angle": {"field": "dir", "type": "quantitative", "scale": null}}},
{"data": {"name": "levels"}, "transform": [{"filter": "datum.kind == 'murrey'"}], "mark": {"type": "text", "font": "Liberation Sans", "fontSize": 20, "align": "center", "baseline": "middle", "dy": 12},
 "encoding": {
  "x": {"datum": 301.5, "type": "quantitative", "axis": null},
  "y": {"field": "price", "type": "quantitative", "title": null},
  "text": {"field": "level", "type": "nominal"},
  "color": {"field": "level", "type": "nominal", "legend": null, "scale": {"domain": ["D1[1/8] H4[+2/8]", "H4[+1/8]", "MN1[2/8] W1PIVOT D1SUP H4RES", "H4[7/8]", "D1[-1/8] H4[6/8]", "H4[5/8]", "W1[3/8] D1[-2/8] H4PIVOT"], "range": ["#d63cd6", "#8893a0", "#4b9de6", "#f0a828", "#e4521c", "#789a2c", "#4b9de6"]}}}},
{"data": {"name": "levels"}, "transform": [{"filter": "datum.kind == 'fib'"}], "mark": {"type": "text", "font": "Liberation Sans", "fontSize": 17, "align": "right", "baseline": "alphabetic", "dx": -1, "dy": -3, "fill": "#247a24"},
 "encoding": {
  "x": {"datum": 415.8, "type": "quantitative", "axis": null},
  "y": {"field": "price", "type": "quantitative", "title": null},
  "text": {"field": "text", "type": "nominal"}}},
{"data": {"name": "levels"}, "transform": [{"filter": "datum.kind == 'murrey'"}], "mark": {"type": "rect", "xOffset": 3, "x2Offset": 78, "yOffset": -4, "y2Offset": 17},
 "encoding": {
  "x": {"datum": 415.8, "type": "quantitative", "axis": null},
  "x2": {"datum": 415.8},
  "y": {"field": "price", "type": "quantitative", "title": null},
  "y2": {"field": "price"},
  "color": {"field": "level", "type": "nominal", "legend": null, "scale": {"domain": ["D1[1/8] H4[+2/8]", "H4[+1/8]", "MN1[2/8] W1PIVOT D1SUP H4RES", "H4[7/8]", "D1[-1/8] H4[6/8]", "H4[5/8]", "W1[3/8] D1[-2/8] H4PIVOT"], "range": ["#ff00ff", "#778899", "#1e90ff", "#ffa500", "#ff4500", "#6b8e23", "#1e90ff"]}}}},
{"data": {"name": "levels"}, "transform": [{"filter": "datum.kind == 'murrey'"}], "mark": {"type": "text", "font": "DejaVu Sans", "fontSize": 15, "align": "left", "baseline": "middle", "dx": 10, "dy": 6.5, "fill": "#ffffff"},
 "encoding": {
  "x": {"datum": 415.8, "type": "quantitative", "axis": null},
  "y": {"field": "price", "type": "quantitative", "title": null},
  "text": {"field": "price", "type": "quantitative", "format": ".5f"}}},
{"data": {"name": "levels"}, "transform": [{"filter": "datum.kind == 'ask'"}], "mark": {"type": "rect", "fill": "#ff4500", "xOffset": 3, "x2Offset": 78, "yOffset": -11, "y2Offset": 10},
 "encoding": {
  "x": {"datum": 415.8, "type": "quantitative", "axis": null},
  "x2": {"datum": 415.8},
  "y": {"field": "price", "type": "quantitative", "title": null},
  "y2": {"field": "price"}}},
{"data": {"name": "levels"}, "transform": [{"filter": "datum.kind == 'bid'"}], "mark": {"type": "rect", "fill": "#000000", "xOffset": 3, "x2Offset": 78, "yOffset": -10.5, "y2Offset": 10.5},
 "encoding": {
  "x": {"datum": 415.8, "type": "quantitative", "axis": null},
  "x2": {"datum": 415.8},
  "y": {"field": "price", "type": "quantitative", "title": null},
  "y2": {"field": "price"}}},
{"data": {"name": "levels"}, "transform": [{"filter": "datum.kind == 'bid'"}], "mark": {"type": "text", "font": "DejaVu Sans", "fontSize": 15, "align": "left", "baseline": "middle", "dx": 10, "dy": 0, "fill": "#ffffff"},
 "encoding": {
  "x": {"datum": 415.8, "type": "quantitative", "axis": null},
  "y": {"field": "price", "type": "quantitative", "title": null},
  "text": {"field": "price", "type": "quantitative", "format": ".5f"}}},
{"data": {"values": [{}]}, "mark": {"type": "text", "text": "▼\u00a0\u00a0USDCHFmicro,H4\u00a0\u00a00.88318 0.88337 0.88252 0.88336", "font": "DejaVu Sans", "fontSize": 14.6, "align": "left", "baseline": "middle", "dx": 4, "dy": 13, "fill": "#000000"},
 "encoding": {
  "x": {"datum": -0.2, "type": "quantitative", "axis": null},
  "y": {"datum": 0.912404, "type": "quantitative"}}},
{"data": {"values": [{}]}, "mark": {"type": "point", "shape": "triangle-down", "size": 220, "filled": true, "fill": "#a8a8a8", "strokeWidth": 0, "opacity": 1, "yOffset": 4},
 "encoding": {
  "x": {"datum": 328.3, "type": "quantitative", "axis": null},
  "y": {"datum": 0.912404, "type": "quantitative"}}}
]
},
{
"width": 2467,
"height": 43,
"layer": [
{"data": {"name": "grid"}, "mark": {"type": "rule", "stroke": "#555555", "strokeWidth": 1, "strokeDash": [2, 2]},
 "encoding": {"x": {"field": "i", "type": "quantitative", "title": null, "scale": {"domain": [-0.2, 415.8], "nice": false, "zero": false, "padding": 0}}}},
{"data": {"name": "rsiLevels"}, "mark": {"type": "rule", "stroke": "#b8b8b8", "strokeWidth": 1, "strokeDash": [1, 2]},
 "encoding": {"y": {"field": "v", "type": "quantitative", "title": null, "scale": {"domain": [0, 100], "nice": false, "zero": false, "padding": 0}}}},
{"data": {"name": "rsi"}, "mark": {"type": "line", "stroke": "#7eaecb", "strokeWidth": 1},
 "encoding": {
  "x": {"field": "i", "type": "quantitative", "title": null, "scale": {"domain": [-0.2, 415.8], "nice": false, "zero": false, "padding": 0},
   "axis": {"orient": "bottom", "title": null, "values": [0, 24, 48, 72, 96, 120, 144, 168, 192, 216, 240, 264, 288, 312], "labelExpr": "['13 Jun 2023','19 Jun 16:00','23 Jun 16:00','29 Jun 16:00','5 Jul 16:00','11 Jul 16:00','17 Jul 16:00','21 Jul 16:00','27 Jul 16:00','2 Aug 16:00','8 Aug 16:00','14 Aug 16:00','18 Aug 16:00','24 Aug 16:00'][round(datum.value / 24)]", "labelAlign": "left", "grid": false, "domain": false, "ticks": true, "tickSize": 4, "tickColor": "#000000", "labelPadding": 3, "labelFont": "DejaVu Sans", "labelFontSize": 15, "labelColor": "#000000", "labelOverlap": false, "labelFlush": false, "labelBound": false}},
  "y": {"field": "rsi", "type": "quantitative", "title": null, "scale": {"domain": [0, 100], "nice": false, "zero": false, "padding": 0},
   "axis": {"orient": "right", "title": null, "values": [70, 30], "grid": false, "domain": false, "ticks": false, "labelPadding": 6, "labelFont": "DejaVu Sans", "labelFontSize": 14, "labelColor": "#000000", "labelBaseline": "middle", "labelOverlap": false, "labelFlush": false, "labelBound": false}}}},
{"data": {"values": [{}]}, "mark": {"type": "rule", "stroke": "#7a7a7a", "strokeWidth": 3},
 "encoding": {"y": {"datum": 100, "type": "quantitative"}}},
{"data": {"values": [{}]}, "mark": {"type": "text", "text": "RSI(14) 54.0119", "font": "DejaVu Sans", "fontSize": 15, "align": "left", "baseline": "middle", "dx": 3, "dy": 14, "fill": "#000000"},
 "encoding": {
  "x": {"datum": -0.2, "type": "quantitative"},
  "y": {"datum": 100, "type": "quantitative"}}},
{"data": {"values": [{}]}, "mark": {"type": "text", "text": "100", "font": "DejaVu Sans", "fontSize": 14, "align": "left", "baseline": "middle", "dx": 6, "dy": 13, "fill": "#000000"},
 "encoding": {
  "x": {"datum": 415.8, "type": "quantitative"},
  "y": {"datum": 100, "type": "quantitative"}}},
{"data": {"values": [{}]}, "mark": {"type": "text", "text": "0", "font": "DejaVu Sans", "fontSize": 14, "align": "left", "baseline": "middle", "dx": 6, "dy": -13, "fill": "#000000"},
 "encoding": {
  "x": {"datum": 415.8, "type": "quantitative"},
  "y": {"datum": 0, "type": "quantitative"}}}
]
}
]
}
